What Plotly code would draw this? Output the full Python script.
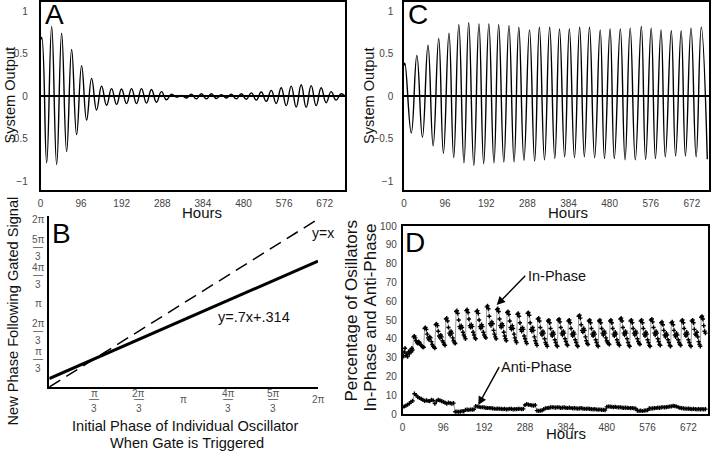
import math
import plotly.graph_objects as go

# ---------------- Panel A: damped system output (extrema) ----------------
A_HOURS = [0, 2.8, 14.6, 26.4, 38.2, 50, 61.8, 73.6, 85.4, 97.2, 109, 120.8, 132.6, 144.4, 156.2,
           168, 179.8, 191.6, 203.4, 215.2, 227, 238.8, 250.6, 262.4, 274.2, 286, 297.8, 309.6,
           321.4, 333.2, 345, 356.8, 368.6, 380.4, 392.2, 404, 415.8, 427.6, 439.4, 451.2, 463,
           474.8, 486.6, 498.4, 510.2, 522, 533.8, 545.6, 557.4, 569.2, 581, 592.8, 604.6, 616.4,
           628.2, 640, 651.8, 663.6, 675.4, 687.2, 699, 710.8, 720]
A_OUTPUT = [0.66, 0.69, -0.78, 0.82, -0.80, 0.74, -0.65, 0.55, -0.45, 0.36, -0.28, 0.21, -0.16, 0.12,
            -0.105, 0.09, -0.095, 0.085, -0.085, 0.09, -0.085, 0.09, -0.08, 0.08, -0.07, 0.055, -0.04,
            0.025, -0.01, 0.01, -0.02, 0.025, -0.03, 0.03, -0.03, 0.03, -0.025, 0.02, -0.02, 0.025,
            -0.03, 0.03, -0.035, 0.04, -0.045, 0.05, -0.06, 0.07, -0.085, 0.10, -0.11, 0.12, -0.125,
            0.135, -0.13, 0.125, -0.11, 0.10, -0.075, 0.055, -0.045, 0.03, 0.0]

# ---------------- Panel C: entrained system output (extrema) ----------------
C_HOURS = [0, 2, 17, 30, 43, 56, 68, 81, 92, 105, 116, 128, 140, 151, 163, 175, 186, 198, 210, 221,
           233, 245, 257, 268, 280, 293, 305, 316, 328, 340, 352, 363, 375, 386, 398, 410, 421, 433,
           445, 458, 468, 481, 491, 505, 516, 528, 540, 554, 564, 577, 587, 600, 610, 624, 634, 647,
           657, 670, 682, 694, 708]
C_OUTPUT = [0.36, 0.39, -0.43, 0.48, -0.48, 0.60, -0.58, 0.68, -0.67, 0.74, -0.72, 0.84, -0.78, 0.865,
            -0.81, 0.85, -0.79, 0.85, -0.78, 0.84, -0.77, 0.83, -0.77, 0.81, -0.75, 0.78, -0.76, 0.81,
            -0.745, 0.81, -0.73, 0.79, -0.71, 0.79, -0.72, 0.81, -0.71, 0.81, -0.72, 0.78, -0.73, 0.79,
            -0.73, 0.79, -0.745, 0.80, -0.745, 0.82, -0.74, 0.80, -0.73, 0.78, -0.71, 0.77, -0.70, 0.77,
            -0.70, 0.80, -0.71, 0.81, -0.74]

# ---------------- Panel B: phase response lines ----------------
B_PHASE_X = [0, 2 * math.pi]
B_IDENTITY_Y = [0, 2 * math.pi]          # y = x
B_FIT_Y = [0.314, 4.712]                 # y = .7x + .314
B_TICK_VALUES = [math.pi / 3, 2 * math.pi / 3, math.pi, 4 * math.pi / 3, 5 * math.pi / 3, 2 * math.pi]
B_TICK_NUM = ["π", "2π", "π", "4π", "5π", "2π"]
B_TICK_DEN = ["3", "3", "", "3", "3", ""]

# ---------------- Panel D: percentage in-phase / anti-phase (every 2 h / 4 h) ----------------
IN_PHASE = (
    [30, 31, 33, 35, 31, 32, 30.5, 33, 32, 34, 33, 35, 34]
    + [41, 41.5, 40.5, 39, 38, 37.5, 38.5, 38, 37, 36.5, 36, 35.5, 35.5]
    + [45.5, 46, 45, 42.5, 40.5, 39.5, 41, 40.5, 38.5, 37, 36, 35.5, 35]
    + [47.5, 48, 47, 44, 41.5, 40.5, 42, 41, 39, 38, 37, 36.5]
    + [50.5, 51, 49.5, 46, 43, 42, 44, 43, 40.5, 39, 38, 37.5]
    + [54.5, 55, 53.5, 50, 46.5, 45.5, 47, 46, 43.5, 42, 41, 40]
    + [55, 55.5, 54, 50.5, 47, 46, 47.5, 46.5, 43.5, 42, 40.5, 40]
    + [54.5, 55, 53.5, 50, 46.5, 45.5, 47.5, 46.5, 43.5, 42, 41, 40.5]
    + [57, 57.5, 56, 52, 48, 47, 49, 48, 44.5, 42.5, 41, 40]
    + [55.5, 56, 54.5, 50.5, 47, 46, 48, 47, 43.5, 41.5, 40, 39]
    + [54, 54.5, 53, 49.5, 46, 45, 47, 45.5, 42.5, 40.5, 39, 38]
    + [53, 53.5, 52, 48.5, 45, 44, 46, 45, 41.5, 40, 38.5, 37.5]
    + [53.5, 54, 52.5, 48.5, 45, 44, 46, 44.5, 41, 39, 37.5, 36.5]
    + [50.5, 51, 49.5, 46, 43, 42, 44, 43, 40, 38, 37, 36]
    + [49.5, 50, 48.5, 45.5, 42.5, 41.5, 43.5, 42.5, 39.5, 38, 36.5, 36]
    + [50, 50.5, 49, 46, 43, 42, 44, 43, 40, 38.5, 37, 36.5]
    + [49.5, 50, 48.5, 45.5, 42.5, 41.5, 43.5, 42.5, 39.5, 38, 36.5, 36]
    + [52, 52.5, 51, 47.5, 44.5, 43.5, 45.5, 44.5, 41, 39, 37.5, 37]
    + [49.5, 50, 48.5, 45.5, 42.5, 41.5, 43.5, 42.5, 39.5, 38, 36.5, 36]
    + [49.5, 50, 48.5, 45.5, 43, 42, 44, 43, 40.5, 39, 38, 37.5, 37]
    + [49.5, 50, 48.5, 45.5, 42.5, 41.5, 43.5, 42.5, 39.5, 38, 37, 36.5]
    + [50.5, 51, 49.5, 46, 43, 42, 44, 43, 40, 38, 36.5, 36]
    + [49.5, 50, 48.5, 45.5, 43, 42, 44, 43, 40, 38.5, 37.5, 37]
    + [49.5, 50, 48.5, 45.5, 42.5, 41.5, 43.5, 42.5, 39.5, 38, 36.5, 36]
    + [50, 50.5, 49, 46, 43, 42, 44, 43, 40, 38.5, 37, 36.5]
    + [48.5, 49, 47.5, 44.5, 42, 41, 43, 42, 39.5, 38, 36.5, 36]
    + [48.5, 49, 47.5, 44.5, 42, 41, 43, 42, 39.5, 38, 37, 36.5]
    + [49.5, 50, 48.5, 45.5, 42.5, 41.5, 43.5, 42.5, 39.5, 38, 36.5, 36]
    + [49.5, 50, 48.5, 45, 42.5, 42, 43.5, 41, 38.5, 37, 36]
    + [51.5, 52, 50.5, 47, 44, 43]
)
IN_PHASE_HOURS = [2 * i for i in range(len(IN_PHASE))]

ANTI_PHASE = (
    [3.5, 4, 4.5, 5, 5.5, 6.5, 7]
    + [10.8, 10, 9, 8.5, 8, 7.5, 7, 7.2, 7, 6.8, 7.5, 7.2, 5.5, 7, 7.5, 7.2, 6.8, 6.5, 6, 5.5, 6, 5.8, 5.5, 5.8]
    + [1.2, 1.3, 1.2, 1.3, 1.5, 1.4, 2.2, 2.3, 2.2, 2.4, 2.3, 2.5]
    + [4.2, 4, 3.8, 3.6, 3.6, 3.5, 3.3, 3.2, 3.2, 3.1, 3, 2.8, 2.8, 2.9, 2.8, 2.7, 2.6, 2.7, 2.5, 2.6,
       2.8, 2.7, 2.5, 2.6, 2.6, 2.7, 2.8, 2.6, 2.7]
    + [4.8, 5.2, 5, 4.8, 4.6, 4.5, 4.7]
    + [1.8, 1.7, 1.8, 1.9, 2.6, 3, 3.2, 3.3, 3.5, 3.6, 3.5, 3.4, 3.6, 3.5, 3.3, 3.4, 3.5, 3.3, 3.2, 3.4,
       3.2, 3, 3.1, 3, 2.9, 3, 3.1, 2.9, 2.8, 2.8, 2.9, 2.7, 2.6, 2.5, 2.6, 2.4, 2.3, 2.4, 2.2, 2.2, 2.1]
    + [3.8, 4, 3.9, 3.8, 3.7, 3.8, 3.6, 3.5, 3.6, 3.4, 3.3, 3.4, 3.3, 3.2, 3.1, 3.2, 3, 2.9]
    + [1.8, 1.7, 1.8, 1.6, 1.8, 1.9, 2]
    + [3, 2.9, 3, 3.1, 3.2, 3.4, 3.3, 3.5, 3.6, 3.5, 3.7, 3.8, 4, 4.1, 4.3, 4.2, 4, 3.6, 3.3, 3.1,
       3, 2.9, 2.8, 2.9, 2.7, 2.6, 2.7, 2.6, 2.5, 2.6, 2.5, 2.6, 2.5, 2.6]
)
ANTI_PHASE_HOURS = [4 * i for i in range(len(ANTI_PHASE))]

HOUR_TICKS = [0, 96, 192, 288, 384, 480, 576, 672]

W, H = 720, 451
FONT = "Liberation Sans, Arial, Helvetica, sans-serif"
TICKFONT = dict(family=FONT, size=10, color="#444")


def px(x):
    return x / W


def py(y):
    return 1 - y / H


fig = go.Figure()

osc_line = dict(color="black", width=1.4, shape="spline", smoothing=1.3)
fig.add_trace(go.Scatter(x=A_HOURS, y=A_OUTPUT, mode="lines", line=osc_line,
                         xaxis="x", yaxis="y", showlegend=False))
fig.add_trace(go.Scatter(x=C_HOURS, y=C_OUTPUT, mode="lines", line=osc_line,
                         xaxis="x2", yaxis="y2", showlegend=False))
fig.add_trace(go.Scatter(x=B_PHASE_X, y=B_IDENTITY_Y, mode="lines",
                         line=dict(color="black", width=1.5, dash="13px,7px"),
                         xaxis="x3", yaxis="y3", showlegend=False))
fig.add_trace(go.Scatter(x=B_PHASE_X, y=B_FIT_Y, mode="lines",
                         line=dict(color="black", width=3),
                         xaxis="x3", yaxis="y3", showlegend=False))
dot_style = dict(mode="lines+markers", line=dict(color="#9a9a9a", width=1),
                 marker=dict(symbol="cross", size=3.5, color="black", line=dict(width=0)))
fig.add_trace(go.Scatter(x=IN_PHASE_HOURS, y=IN_PHASE, xaxis="x4", yaxis="y4",
                         showlegend=False, **dot_style))
fig.add_trace(go.Scatter(x=ANTI_PHASE_HOURS, y=ANTI_PHASE, xaxis="x4", yaxis="y4",
                         showlegend=False, **dot_style))

box = dict(showline=True, mirror=True, linecolor="black", linewidth=1.5, showgrid=False,
           zeroline=False, ticks="", tickfont=TICKFONT, automargin=False)

fig.update_layout(
    width=W, height=H, margin=dict(l=0, r=0, t=0, b=0, autoexpand=False),
    paper_bgcolor="white", plot_bgcolor="white",
    xaxis=dict(domain=[px(40.5), px(345)], range=[0, 720], anchor="y", tickvals=HOUR_TICKS,
               ticklabelstandoff=3, **box),
    yaxis=dict(domain=[py(190), py(1.5)], range=[-1.1, 1.113], anchor="x", tickvals=[-1, -0.5, 0, 0.5, 1],
               ticklabelstandoff=9, **{**box, "zeroline": True},
               zerolinecolor="black", zerolinewidth=2),
    xaxis2=dict(domain=[px(404), px(709)], range=[0, 712], anchor="y2", tickvals=HOUR_TICKS,
                ticklabelstandoff=3, **box),
    yaxis2=dict(domain=[py(190), py(1.5)], range=[-1.1, 1.113], anchor="x2", tickvals=[-1, -0.5, 0, 0.5, 1],
                ticklabelstandoff=7, **{**box, "zeroline": True},
                zerolinecolor="black", zerolinewidth=2),
    xaxis3=dict(domain=[px(49.3), px(318)], range=[0, 2 * math.pi], anchor="y3",
                showline=True, mirror=False, linecolor="black", linewidth=1.5, showgrid=False,
                zeroline=False, ticks="", showticklabels=False, automargin=False),
    yaxis3=dict(domain=[py(387), py(216)], range=[0, 6.4], anchor="x3",
                showline=True, mirror=False, linecolor="black", linewidth=1.5, showgrid=False,
                zeroline=False, ticks="", showticklabels=False, automargin=False),
    xaxis4=dict(domain=[px(402.5), px(708)], range=[0, 718], anchor="y4", tickvals=HOUR_TICKS,
                ticklabelstandoff=3, **box),
    yaxis4=dict(domain=[py(414), py(226)], range=[0, 100], anchor="x4", dtick=10,
                ticklabelstandoff=2, **box),
)

ann = []


def text(x, y, s, size=14.6, angle=0, color="#111"):
    ann.append(dict(x=px(x), y=py(y), xref="paper", yref="paper", text=s, showarrow=False,
                    textangle=angle, xanchor="center", yanchor="middle",
                    font=dict(family=FONT, size=size, color=color)))


# panel letters
text(54, 15, "A", size=28, color="black")
text(418, 15, "C", size=28, color="black")
text(61, 234, "B", size=28, color="black")
text(415, 242, "D", size=28, color="black")

# axis titles
text(9.5, 95, "System Output", angle=-90)
text(369, 95, "System Output", angle=-90)
text(202, 212, "Hours", size=15)
text(568, 212, "Hours", size=15)
text(12, 311.5, "New Phase Following Gated Signal", angle=-90)
text(185, 426, "Initial Phase of Individual Oscillator")
text(186.5, 443, "When Gate is Triggered")
text(351, 311.5, "Percentage of Osillators", size=17, angle=-90)
text(370, 317.5, "In-Phase and Anti-Phase", size=17, angle=-90)
text(566, 433.5, "Hours", size=15)

# panel B line labels
text(322.5, 232.5, "y=x", size=14)
text(254, 316.5, "y=.7x+.314", size=14.5)

# panel D labels and arrows
text(557, 276.3, "In-Phase", size=14.5)
text(536.7, 366.7, "Anti-Phase", size=14.5)
for tip, tail in [((221.4, 58.0), (291.9, 74.3)), ((178.1, 4.8), (229.1, 25.7))]:
    ann.append(dict(x=tip[0], y=tip[1], xref="x4", yref="y4", ax=tail[0], ay=tail[1],
                    axref="x4", ayref="y4", text="", showarrow=True, arrowhead=2,
                    arrowsize=1.2, arrowwidth=1.4, arrowcolor="black"))

# panel B fraction tick labels
BT = dict(family=FONT, size=10, color="#555")
for v, num, den in zip(B_TICK_VALUES, B_TICK_NUM, B_TICK_DEN):
    # x axis
    parts = [(num, -6), ("—", -11.5), (den, -21)] if den else [(num, -12)]
    for s, sh in parts:
        ann.append(dict(x=v, y=0, xref="x3", yref="y3 domain", text=s, showarrow=False,
                        xanchor="center", yanchor="middle", yshift=sh, font=BT))
    # y axis
    parts = [(num, 7.5), ("—", 0.5), (den, -9.5)] if den else [(num, 0)]
    for s, sh in parts:
        ann.append(dict(x=0, y=v, xref="x3 domain", yref="y3", text=s, showarrow=False,
                        xanchor="center", yanchor="middle", xshift=-11, yshift=sh, font=BT))

fig.update_layout(annotations=ann)
fig.write_html("out.html", config={"displayModeBar": False},
               post_script="document.body.style.margin='0';document.body.style.padding='0';")
